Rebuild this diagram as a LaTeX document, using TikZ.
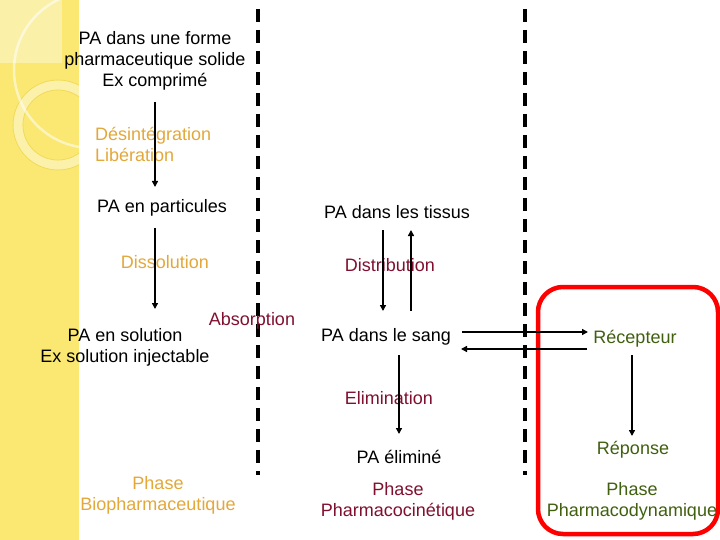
\documentclass[tikz,border=0pt]{standalone}
\usepackage{fontspec}
\setmainfont{Liberation Sans}
\usetikzlibrary{arrows.meta}
\definecolor{strip}{HTML}{FAE872}
\definecolor{stripl}{HTML}{FBF0A8}
\definecolor{stripr}{HTML}{F0D858}
\definecolor{orng}{HTML}{E3A83A}
\definecolor{maroon}{HTML}{801030}
\definecolor{grn}{HTML}{406010}
\tikzset{
  lbl/.style={inner sep=0pt, align=center, font=\fontsize{18}{21}\selectfont},
  arr/.style={line width=1.4pt, -{Triangle[length=6pt,width=6pt]}},
  sep/.style={line width=4pt, dash pattern=on 13pt off 8pt},
}
\begin{document}
\begin{tikzpicture}[x=1pt,y=-1pt]
\useasboundingbox (0,0) rectangle (720,540);
\fill[white] (0,0) rectangle (720,540);
% decorative strip
\begin{scope}
\clip (0,0) rectangle (79,540);
\fill[strip] (0,0) rectangle (79,540);
\fill[stripl] (0,0) rectangle (62,63);
\draw[strip!60!white, line width=9pt] (58,125) circle[radius=40];
\draw[stripr, line width=0.6pt] (58,125) circle[radius=45];
\draw[stripr, line width=0.6pt] (58,125) circle[radius=35];
\draw[white, opacity=0.55, line width=2.5pt] (92,70) circle[radius=78];
\end{scope}
% separators
\draw[sep] (258,9) -- (258,475);
\draw[sep] (525,9) -- (525,475);
% red frame
\draw[red, line width=4.5pt, rounded corners=25pt] (538,287) rectangle (718,534);
% texts
\node[lbl] (forme) at (155,61) {PA dans une forme\\pharmaceutique solide\\Ex comprimé};
\node[lbl, text=orng, align=left, anchor=west] (desint) at (95,144) {Désintégration\\Libération};
\node[lbl] (part) at (162,208) {PA en particules};
\node[lbl, text=orng] (dissol) at (165,262) {Dissolution};
\node[lbl, text=maroon] (absorp) at (252,321) {Absorption};
\node[lbl] (solut) at (125,347) {PA en solution\\Ex solution injectable};
\node[lbl] (tissus) at (397,212) {PA dans les tissus};
\node[lbl, text=maroon] (distrib) at (390,265) {Distribution};
\node[lbl] (sang) at (386,337) {PA dans le sang};
\node[lbl, text=grn] (recep) at (635,339) {Récepteur};
\node[lbl, text=maroon] (elim) at (389,398) {Elimination};
\node[lbl] (elimine) at (399,457) {PA éliminé};
\node[lbl, text=grn] (repon) at (633,450) {Réponse};
\node[lbl, text=orng] (phbio) at (158,495) {Phase\\Biopharmaceutique};
\node[lbl, text=maroon] (phpk) at (398,501) {Phase\\Pharmacocinétique};
\node[lbl, text=grn] (phpd) at (632,501) {Phase\\Pharmacodynamique};
% arrow endpoints
\coordinate (a1s) at (155,102); \coordinate (a1e) at (155,187);
\coordinate (a2s) at (155,228); \coordinate (a2e) at (155,309);
\coordinate (d1s) at (383,230); \coordinate (d1e) at (383,311);
\coordinate (d2s) at (411,311); \coordinate (d2e) at (411,230);
\coordinate (h1s) at (462,332); \coordinate (h1e) at (588,332);
\coordinate (h2s) at (587,349); \coordinate (h2e) at (461,349);
\coordinate (e1s) at (399,355); \coordinate (e1e) at (399,434);
\coordinate (r1s) at (632,355); \coordinate (r1e) at (632,436);
% arrows
\draw[arr] (a1s) -- (a1e);
\draw[arr] (a2s) -- (a2e);
\draw[arr] (d1s) -- (d1e);
\draw[arr] (d2s) -- (d2e);
\draw[arr] (h1s) -- (h1e);
\draw[arr] (h2s) -- (h2e);
\draw[arr] (e1s) -- (e1e);
\draw[arr] (r1s) -- (r1e);
\end{tikzpicture}
\end{document}
